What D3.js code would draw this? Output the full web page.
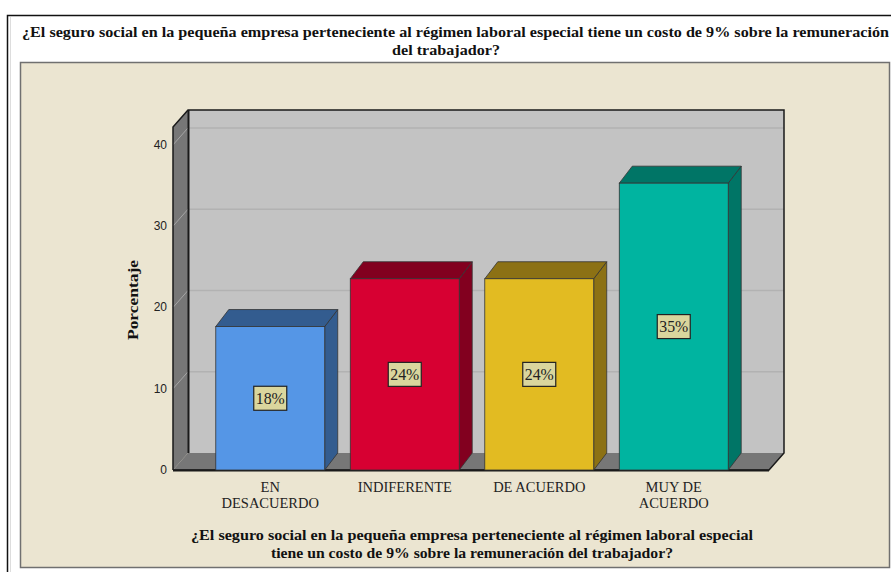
<!DOCTYPE html>
<html>
<head>
<meta charset="utf-8">
<script src="https://cdn.jsdelivr.net/npm/d3@7"></script>
<style>
  body { margin: 0; background: #fff; }
  svg { display: block; }
</style>
</head>
<body>
<div id="chart"></div>
<script>
"use strict";

// data (n = 17 -> 3, 4, 4, 6)
const categories = ["EN DESACUERDO", "INDIFERENTE", "DE ACUERDO", "MUY DE ACUERDO"];
const catLines = [["EN", "DESACUERDO"], ["INDIFERENTE"], ["DE ACUERDO"], ["MUY DE", "ACUERDO"]];
const percents = [17.65, 23.53, 23.53, 35.29];
const barLabels = ["18%", "24%", "24%", "35%"];
const yTicks = [0, 10, 20, 30, 40];
const frontColors = ["#5596e6", "#d70032", "#e2bb22", "#00b4a0"];
const sideColors = ["#335c8f", "#82001f", "#8c7114", "#007566"];

const titleLines = [
  "¿El seguro social en la pequeña empresa perteneciente al régimen laboral especial tiene un costo de 9% sobre la remuneración",
  "del trabajador?"
];
const xTitleLines = [
  "¿El seguro social en la pequeña empresa perteneciente al régimen laboral especial",
  "tiene un costo de 9% sobre la remuneración del trabajador?"
];
const yTitle = "Porcentaje";

const W = 891, H = 572;
const svg = d3.select("#chart").append("svg")
  .attr("width", W)
  .attr("height", H);

const serif = "'Liberation Serif', 'Times New Roman', serif";

// outer frame + beige panel
svg.append("path")
  .attr("d", "M7.5," + H + " V15.5 H" + W)
  .attr("fill", "none")
  .attr("stroke", "#111")
  .attr("stroke-width", 1.5);
svg.append("line")
  .attr("x1", 10.5).attr("x2", 10.5).attr("y1", 17).attr("y2", H)
  .attr("stroke", "#ddd");

svg.append("rect")
  .attr("x", 20.5).attr("y", 62.5)
  .attr("width", 869).attr("height", 505)
  .attr("fill", "#ebe5d1")
  .attr("stroke", "#707070")
  .attr("stroke-width", 1.5);

// title
svg.append("text")
  .attr("x", 22).attr("y", 37)
  .attr("font-family", serif).attr("font-weight", "bold").attr("font-size", 15)
  .attr("textLength", 867).attr("lengthAdjust", "spacingAndGlyphs")
  .attr("fill", "#111")
  .text(titleLines[0]);
svg.append("text")
  .attr("x", 446).attr("y", 55)
  .attr("text-anchor", "middle")
  .attr("font-family", serif).attr("font-weight", "bold").attr("font-size", 15)
  .attr("textLength", 108).attr("lengthAdjust", "spacingAndGlyphs")
  .attr("fill", "#111")
  .text(titleLines[1]);

// 3d plot geometry
const x0 = 173, x1 = 769;         // front floor edge
const wdx = 15, wdy = -17;        // wall depth
const bdx = 13, bdy = -17;        // bar depth

const y = d3.scaleLinear().domain([0, 42.2]).range([470, 127]);
const x = d3.scaleBand()
  .domain(categories)
  .range([203, 741])
  .paddingInner(0.19)
  .paddingOuter(0.095);

const g = svg.append("g");

// back wall
g.append("rect")
  .attr("x", x0 + wdx).attr("y", y.range()[1] + wdy)
  .attr("width", x1 - x0).attr("height", y(0) - y.range()[1])
  .attr("fill", "#c3c3c3");

// left wall
g.append("path")
  .attr("d", `M${x0},${y(0)} L${x0},${y.range()[1]} L${x0 + wdx},${y.range()[1] + wdy} L${x0 + wdx},${y(0) + wdy} Z`)
  .attr("fill", "#777");

// floor
g.append("path")
  .attr("d", `M${x0},${y(0)} L${x0 + wdx},${y(0) + wdy} L${x1 + wdx},${y(0) + wdy} L${x1},${y(0)} Z`)
  .attr("fill", "#777");

// gridlines
const grid = yTicks.filter(d => d > 0);
g.selectAll(".gb").data(grid).join("line")
  .attr("x1", x0 + wdx).attr("x2", x1 + wdx)
  .attr("y1", d => y(d) + wdy).attr("y2", d => y(d) + wdy)
  .attr("stroke", "#b2b2b2").attr("stroke-width", 1.5);
g.selectAll(".gl").data(grid).join("line")
  .attr("x1", x0).attr("x2", x0 + wdx)
  .attr("y1", d => y(d)).attr("y2", d => y(d) + wdy)
  .attr("stroke", "#a5a5a5").attr("stroke-width", 1);

// wall edges
const edge = "#1a1a1a";
g.append("path")
  .attr("d", `M${x0},${y(0)} V${y.range()[1]} L${x0 + wdx},${y.range()[1] + wdy} H${x1 + wdx} V${y(0) + wdy} L${x1},${y(0)} H${x0}`)
  .attr("fill", "none").attr("stroke", edge).attr("stroke-width", 1.5);
g.append("line")
  .attr("x1", x0 + wdx + 0.5).attr("x2", x0 + wdx + 0.5)
  .attr("y1", y.range()[1] + wdy).attr("y2", y(0) + wdy)
  .attr("stroke", edge).attr("stroke-width", 2);
g.append("line")
  .attr("x1", x0).attr("x2", x1).attr("y1", y(0) + 0.5).attr("y2", y(0) + 0.5)
  .attr("stroke", edge).attr("stroke-width", 2);

// y axis tick labels
g.selectAll(".yt").data(yTicks).join("text")
  .attr("x", 167).attr("y", d => y(d) + 4)
  .attr("text-anchor", "end")
  .attr("font-family", "'Liberation Sans', Arial, sans-serif")
  .attr("font-size", 12)
  .attr("fill", "#222")
  .text(d => d);

// bars
const bars = g.selectAll(".bar").data(categories).join("g");
const bw = x.bandwidth();

bars.append("path") // side
  .attr("d", (d, i) => {
    const l = x(d) + bw, t = y(percents[i]);
    return `M${l},${y(0)} L${l},${t} L${l + bdx},${t + bdy} L${l + bdx},${y(0) + bdy} Z`;
  })
  .attr("fill", (d, i) => sideColors[i])
  .attr("stroke", "#333").attr("stroke-width", 0.8);

bars.append("path") // top
  .attr("d", (d, i) => {
    const l = x(d), t = y(percents[i]);
    return `M${l},${t} L${l + bdx},${t + bdy} L${l + bw + bdx},${t + bdy} L${l + bw},${t} Z`;
  })
  .attr("fill", (d, i) => sideColors[i])
  .attr("stroke", "#333").attr("stroke-width", 0.8);

bars.append("rect") // front
  .attr("x", d => x(d))
  .attr("y", (d, i) => y(percents[i]))
  .attr("width", bw)
  .attr("height", (d, i) => y(0) - y(percents[i]))
  .attr("fill", (d, i) => frontColors[i])
  .attr("stroke", "#333").attr("stroke-width", 0.8);

// value labels
bars.each(function(d, i) {
  const cx = x(d) + bw / 2;
  const cy = (y(0) + y(percents[i])) / 2;
  const b = d3.select(this);
  b.append("rect")
    .attr("x", cx - 16.5).attr("y", cy - 12)
    .attr("width", 33).attr("height", 24)
    .attr("fill", "#dad69d")
    .attr("stroke", "#222").attr("stroke-width", 1.2);
  b.append("text")
    .attr("x", cx).attr("y", cy + 5.5)
    .attr("text-anchor", "middle")
    .attr("font-family", serif).attr("font-size", 16)
    .attr("textLength", 29).attr("lengthAdjust", "spacingAndGlyphs")
    .attr("fill", "#222")
    .text(barLabels[i]);
});

// category labels
g.selectAll(".cat").data(categories).join("text")
  .attr("x", d => x(d) + bw / 2)
  .attr("y", 492)
  .attr("text-anchor", "middle")
  .attr("font-family", serif).attr("font-size", 14.5)
  .attr("fill", "#222")
  .each(function(d, i) {
    d3.select(this).selectAll("tspan").data(catLines[i]).join("tspan")
      .attr("x", x(d) + bw / 2)
      .attr("dy", (t, j) => j === 0 ? 0 : 16)
      .text(t => t);
  });

// axis titles
svg.append("text")
  .attr("transform", "translate(138,300) rotate(-90)")
  .attr("text-anchor", "middle")
  .attr("font-family", serif).attr("font-weight", "bold").attr("font-size", 15)
  .attr("textLength", 80).attr("lengthAdjust", "spacingAndGlyphs")
  .attr("fill", "#111")
  .text(yTitle);

svg.selectAll(".xt").data(xTitleLines).join("text")
  .attr("x", 472)
  .attr("y", (d, i) => 540 + i * 18)
  .attr("text-anchor", "middle")
  .attr("font-family", serif).attr("font-weight", "bold").attr("font-size", 15)
  .attr("textLength", (d, i) => i === 0 ? 562 : 402)
  .attr("lengthAdjust", "spacingAndGlyphs")
  .attr("fill", "#111")
  .text(d => d);
</script>
</body>
</html>
